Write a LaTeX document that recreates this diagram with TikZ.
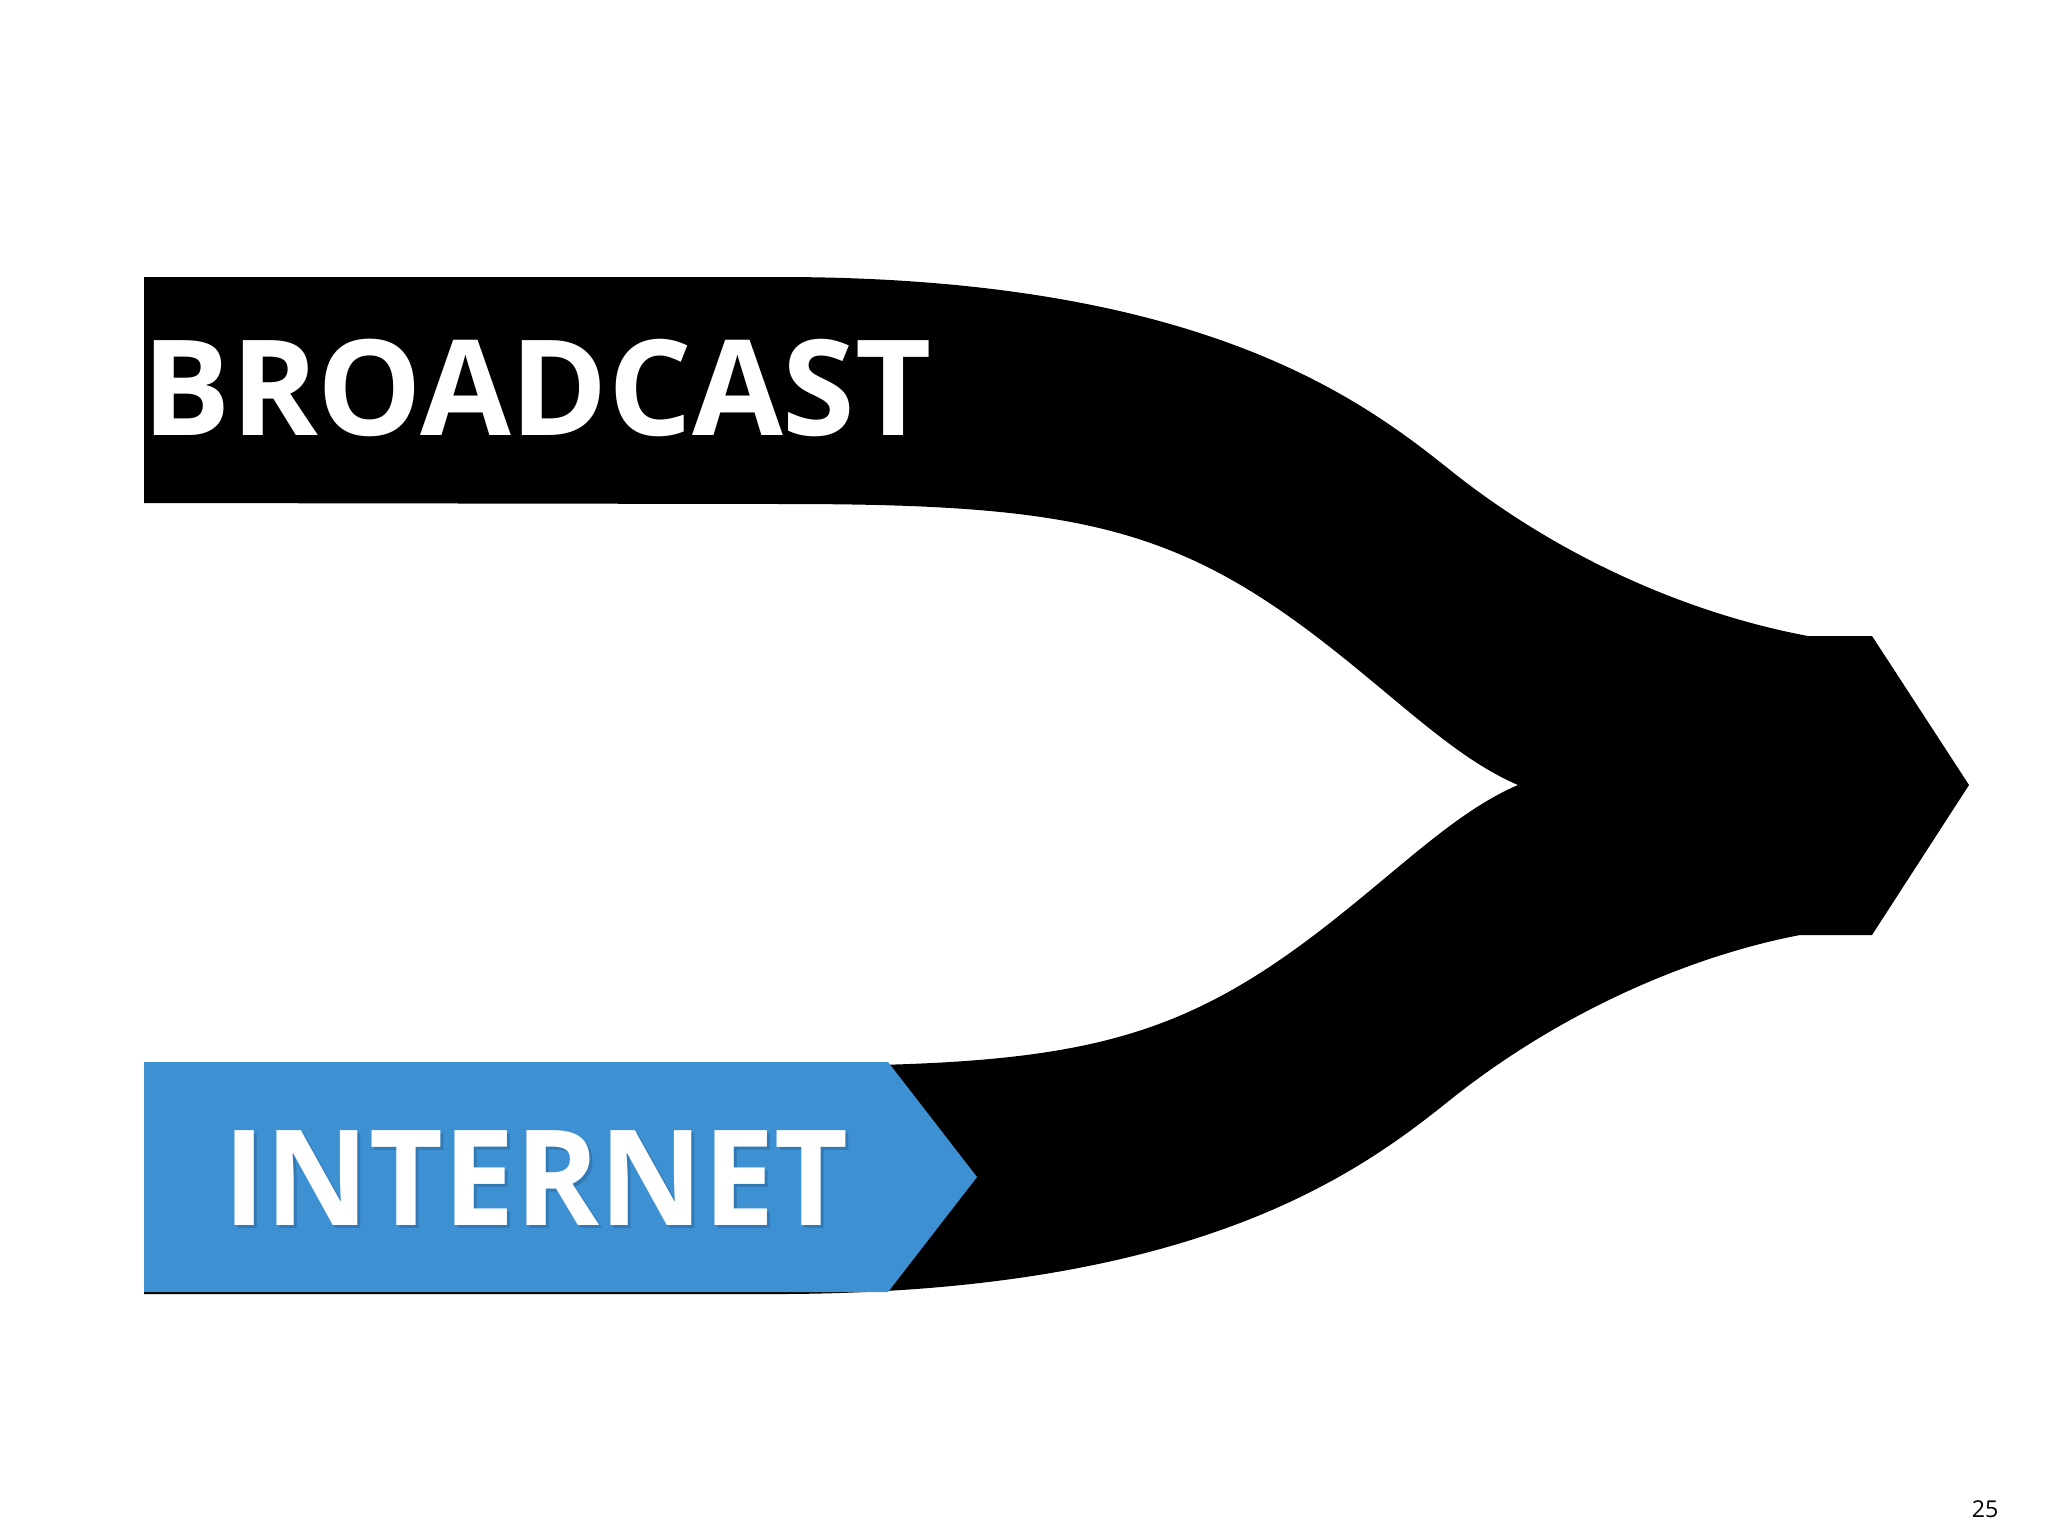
\documentclass[tikz,border=0pt]{standalone}
\usepackage{fontspec}
\setmainfont{Open Sans}
\usetikzlibrary{calc}
\definecolor{netblue}{RGB}{61,145,211}
\definecolor{netshadow}{RGB}{30,80,130}

\begin{document}
\begin{tikzpicture}[x=0.01cm,y=-0.01cm,
    bigword/.style={anchor=base west,inner sep=0pt,text=white,
      font=\fontsize{37.8}{40}\selectfont\bfseries}]
			\fill[white] (0,0) rectangle (2048,1536);
			\useasboundingbox (0,0) rectangle (2048,1536);

			\coordinate (TL) at (144,277);
			\coordinate (TS) at (784,277);
			\coordinate (TM) at (1450,470);
			\coordinate (TE) at (1808,636);
			\coordinate (HT) at (1872,636);
			\coordinate (tip) at (1969,785);
			\coordinate (HB) at (1872,935);
			\coordinate (BE) at (1800,935);
			\coordinate (BM) at (1450,1100);
			\coordinate (BS) at (784,1294);
			\coordinate (BL) at (144,1294);
			\coordinate (IL) at (144,1066);
			\coordinate (IS) at (784,1066);
			\coordinate (IM) at (1340,915);
			\coordinate (merge) at (1518,785);
			\coordinate (JM) at (1340,655);
			\coordinate (JS) at (784,504);
			\coordinate (JL) at (144,503);

			% black merging band
			\fill[black] (TL)--(TS)
				.. controls (1200,278) and (1360,398) .. (TM)
				.. controls (1560,558) and (1690,614) .. (TE)
				--(HT)--(tip)--(HB)--(BE)
				.. controls (1690,956) and (1560,1012) .. (BM)
				.. controls (1360,1172) and (1200,1292) .. (BS)
				--(BL)--(IL)--(IS)
				.. controls (1080,1066) and (1180,1043) .. (IM)
				.. controls (1410,859) and (1460,810) .. (merge)
				.. controls (1460,760) and (1410,711) .. (JM)
				.. controls (1180,527) and (1080,504) .. (JS)
				--(JL)--cycle;

			% blue arrow box
			\coordinate (A) at (144,1062);
			\coordinate (B) at (888,1062);
			\coordinate (C) at (977,1177);
			\coordinate (D) at (888,1292);
			\coordinate (E) at (144,1292);
			\fill[netblue] (A)--(B)--(C)--(D)--(E)--cycle;

			\node[bigword] (broadcast) at (142,435) {\scalebox{0.99}[1]{BROADCAST}};
			\node[bigword,text=netshadow,opacity=0.35] (shadow) at (226,1228) {\scalebox{0.96}[1]{INTERNET}};
			\node[bigword] (internet) at (223,1225) {\scalebox{0.96}[1]{INTERNET}};
			\node[anchor=base east,inner sep=0pt,font=\fontsize{6.6}{8}\selectfont] (page) at (1999,1517) {25};
			\end{tikzpicture}
\end{document}
